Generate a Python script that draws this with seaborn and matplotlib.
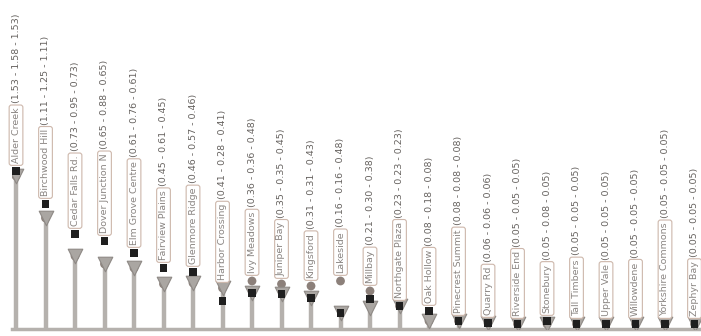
import matplotlib
matplotlib.use("Agg")
import matplotlib.pyplot as plt
import numpy as np
import pandas as pd
import seaborn as sns

# Sites, ordered by their main score
names = [
    "Alder Creek", "Birchwood Hill", "Cedar Falls Rd.", "Dover Junction N",
    "Elm Grove Centre", "Fairview Plains", "Glenmore Ridge", "Harbor Crossing",
    "Ivy Meadows", "Juniper Bay", "Kingsford", "Lakeside", "Millbay",
    "Northgate Plaza", "Oak Hollow", "Pinecrest Summit", "Quarry Rd",
    "Riverside End", "Stonebury", "Tall Timbers", "Upper Vale", "Willowdene",
    "Yorkshire Commons", "Zephyr Bay",
]
# Main score (stem height, grey cap)
score_main = [1.53, 1.11, 0.73, 0.65, 0.61, 0.45, 0.46, 0.41, 0.36, 0.35,
              0.31, 0.16, 0.21, 0.23, 0.08, 0.08, 0.06, 0.05, 0.05, 0.05,
              0.05, 0.05, 0.05, 0.05]
# Secondary score (black square)
score_second = [1.58, 1.25, 0.95, 0.88, 0.76, 0.61, 0.57, 0.28, 0.36, 0.35,
                0.31, 0.16, 0.30, 0.23, 0.18, 0.08, 0.06, 0.05, 0.08, 0.05,
                0.05, 0.05, 0.05, 0.05]
# Third score (brown-grey dot)
score_third = [1.53, 1.11, 0.73, 0.65, 0.61, 0.45, 0.46, 0.41, 0.48, 0.45,
               0.43, 0.48, 0.38, 0.23, 0.08, 0.08, 0.06, 0.05, 0.05, 0.05,
               0.05, 0.05, 0.05, 0.05]

df = pd.DataFrame({
    "pos": np.arange(len(names)),
    "name": names,
    "main": score_main,
    "second": score_second,
    "third": score_third,
})

sns.set_theme(style="white")
plt.rcParams["font.family"] = ["DejaVu Sans"]

stem_color = "#b5b1ad"
fig = plt.figure(figsize=(7.01, 3.36), dpi=100)
ax = fig.add_axes([12 / 701, 7 / 336, 689 / 701, 329 / 336])

ax.vlines(df["pos"], 0, df["main"], color=stem_color, lw=3.2, zorder=1)
sns.scatterplot(data=df, x="pos", y="third", marker="o", s=40,
                color="#8c807a", edgecolor="none", ax=ax, zorder=2, legend=False)
sns.scatterplot(data=df, x="pos", y="main", marker="v", s=110,
                color="#aaa6a2", edgecolor="#8e8985", linewidth=0.8,
                ax=ax, zorder=3, legend=False)
sns.scatterplot(data=df, x="pos", y="second", marker="s", s=30,
                color="#1f1f1f", edgecolor="none", ax=ax, zorder=4, legend=False)

# Vertical labels: site name in a box, then the three scores
for _, row in df.iterrows():
    top = max(row["main"], row["second"], row["third"]) + 0.08
    t1 = ax.text(row["pos"], top, row["name"], rotation=90, ha="center",
                 va="bottom", fontsize=6.8, color="#8a8582", zorder=5,
                 bbox=dict(boxstyle="round,pad=0.25", fc="white",
                           ec="#cdb7ab", lw=0.8))
    ax.annotate(f"({row['main']:.2f} - {row['second']:.2f} - {row['third']:.2f})",
                xy=(0.5, 1), xycoords=t1, xytext=(0, 3),
                textcoords="offset points", rotation=90, ha="center",
                va="bottom", fontsize=6.8, color="#66625f", zorder=5)

ax.set_xlim(-0.136, 23.22)
ax.set_ylim(0, 3.29)
ax.set_xticks([])
ax.set_yticks([])
ax.set_xlabel("")
ax.set_ylabel("")
for side in ["top", "right", "left"]:
    ax.spines[side].set_visible(False)
ax.spines["bottom"].set_color(stem_color)
ax.spines["bottom"].set_linewidth(2.5)

fig.savefig("out.png", dpi=100)
